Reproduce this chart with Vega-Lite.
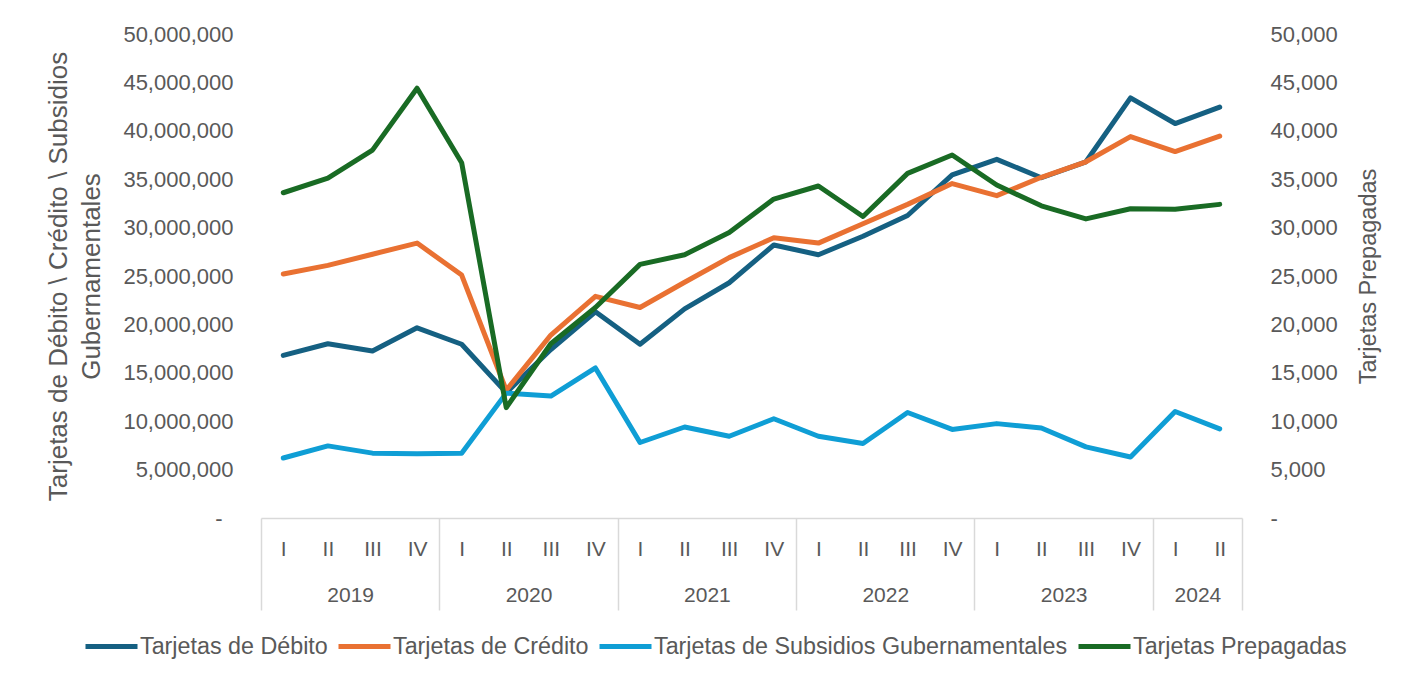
{
  "$schema": "https://vega.github.io/schema/vega-lite/v6.json",
  "width": 981,
  "height": 484,
  "autosize": {"type": "none"},
  "padding": {"left": 261, "top": 34, "right": 182, "bottom": 165},
  "background": "white",
  "config": {
    "view": {"stroke": null},
    "font": "Liberation Sans",
    "axis": {"labelColor": "#595959", "titleColor": "#595959", "labelFont": "Liberation Sans", "titleFont": "Liberation Sans", "titleFontWeight": "normal", "grid": false},
    "legend": {"padding": 0}
  },
  "datasets": {
    "tarjetas": [
      {"i": 0, "serie": "Tarjetas de Débito", "valor": 16800000},
      {"i": 1, "serie": "Tarjetas de Débito", "valor": 18000000},
      {"i": 2, "serie": "Tarjetas de Débito", "valor": 17250000},
      {"i": 3, "serie": "Tarjetas de Débito", "valor": 19650000},
      {"i": 4, "serie": "Tarjetas de Débito", "valor": 17950000},
      {"i": 5, "serie": "Tarjetas de Débito", "valor": 12950000},
      {"i": 6, "serie": "Tarjetas de Débito", "valor": 17400000},
      {"i": 7, "serie": "Tarjetas de Débito", "valor": 21300000},
      {"i": 8, "serie": "Tarjetas de Débito", "valor": 17950000},
      {"i": 9, "serie": "Tarjetas de Débito", "valor": 21600000},
      {"i": 10, "serie": "Tarjetas de Débito", "valor": 24300000},
      {"i": 11, "serie": "Tarjetas de Débito", "valor": 28200000},
      {"i": 12, "serie": "Tarjetas de Débito", "valor": 27200000},
      {"i": 13, "serie": "Tarjetas de Débito", "valor": 29100000},
      {"i": 14, "serie": "Tarjetas de Débito", "valor": 31250000},
      {"i": 15, "serie": "Tarjetas de Débito", "valor": 35450000},
      {"i": 16, "serie": "Tarjetas de Débito", "valor": 37050000},
      {"i": 17, "serie": "Tarjetas de Débito", "valor": 35150000},
      {"i": 18, "serie": "Tarjetas de Débito", "valor": 36800000},
      {"i": 19, "serie": "Tarjetas de Débito", "valor": 43400000},
      {"i": 20, "serie": "Tarjetas de Débito", "valor": 40750000},
      {"i": 21, "serie": "Tarjetas de Débito", "valor": 42450000},
      {"i": 0, "serie": "Tarjetas de Crédito", "valor": 25200000},
      {"i": 1, "serie": "Tarjetas de Crédito", "valor": 26100000},
      {"i": 2, "serie": "Tarjetas de Crédito", "valor": 27250000},
      {"i": 3, "serie": "Tarjetas de Crédito", "valor": 28400000},
      {"i": 4, "serie": "Tarjetas de Crédito", "valor": 25100000},
      {"i": 5, "serie": "Tarjetas de Crédito", "valor": 13200000},
      {"i": 6, "serie": "Tarjetas de Crédito", "valor": 18900000},
      {"i": 7, "serie": "Tarjetas de Crédito", "valor": 22900000},
      {"i": 8, "serie": "Tarjetas de Crédito", "valor": 21750000},
      {"i": 9, "serie": "Tarjetas de Crédito", "valor": 24350000},
      {"i": 10, "serie": "Tarjetas de Crédito", "valor": 26900000},
      {"i": 11, "serie": "Tarjetas de Crédito", "valor": 28950000},
      {"i": 12, "serie": "Tarjetas de Crédito", "valor": 28400000},
      {"i": 13, "serie": "Tarjetas de Crédito", "valor": 30400000},
      {"i": 14, "serie": "Tarjetas de Crédito", "valor": 32400000},
      {"i": 15, "serie": "Tarjetas de Crédito", "valor": 34550000},
      {"i": 16, "serie": "Tarjetas de Crédito", "valor": 33300000},
      {"i": 17, "serie": "Tarjetas de Crédito", "valor": 35200000},
      {"i": 18, "serie": "Tarjetas de Crédito", "valor": 36800000},
      {"i": 19, "serie": "Tarjetas de Crédito", "valor": 39400000},
      {"i": 20, "serie": "Tarjetas de Crédito", "valor": 37850000},
      {"i": 21, "serie": "Tarjetas de Crédito", "valor": 39450000},
      {"i": 0, "serie": "Tarjetas de Subsidios Gubernamentales", "valor": 6200000},
      {"i": 1, "serie": "Tarjetas de Subsidios Gubernamentales", "valor": 7450000},
      {"i": 2, "serie": "Tarjetas de Subsidios Gubernamentales", "valor": 6700000},
      {"i": 3, "serie": "Tarjetas de Subsidios Gubernamentales", "valor": 6650000},
      {"i": 4, "serie": "Tarjetas de Subsidios Gubernamentales", "valor": 6700000},
      {"i": 5, "serie": "Tarjetas de Subsidios Gubernamentales", "valor": 12900000},
      {"i": 6, "serie": "Tarjetas de Subsidios Gubernamentales", "valor": 12600000},
      {"i": 7, "serie": "Tarjetas de Subsidios Gubernamentales", "valor": 15500000},
      {"i": 8, "serie": "Tarjetas de Subsidios Gubernamentales", "valor": 7800000},
      {"i": 9, "serie": "Tarjetas de Subsidios Gubernamentales", "valor": 9400000},
      {"i": 10, "serie": "Tarjetas de Subsidios Gubernamentales", "valor": 8450000},
      {"i": 11, "serie": "Tarjetas de Subsidios Gubernamentales", "valor": 10250000},
      {"i": 12, "serie": "Tarjetas de Subsidios Gubernamentales", "valor": 8450000},
      {"i": 13, "serie": "Tarjetas de Subsidios Gubernamentales", "valor": 7700000},
      {"i": 14, "serie": "Tarjetas de Subsidios Gubernamentales", "valor": 10900000},
      {"i": 15, "serie": "Tarjetas de Subsidios Gubernamentales", "valor": 9150000},
      {"i": 16, "serie": "Tarjetas de Subsidios Gubernamentales", "valor": 9750000},
      {"i": 17, "serie": "Tarjetas de Subsidios Gubernamentales", "valor": 9300000},
      {"i": 18, "serie": "Tarjetas de Subsidios Gubernamentales", "valor": 7350000},
      {"i": 19, "serie": "Tarjetas de Subsidios Gubernamentales", "valor": 6300000},
      {"i": 20, "serie": "Tarjetas de Subsidios Gubernamentales", "valor": 11000000},
      {"i": 21, "serie": "Tarjetas de Subsidios Gubernamentales", "valor": 9200000},
      {"i": 0, "serie": "Tarjetas Prepagadas", "valor": 33600},
      {"i": 1, "serie": "Tarjetas Prepagadas", "valor": 35100},
      {"i": 2, "serie": "Tarjetas Prepagadas", "valor": 38000},
      {"i": 3, "serie": "Tarjetas Prepagadas", "valor": 44400},
      {"i": 4, "serie": "Tarjetas Prepagadas", "valor": 36700},
      {"i": 5, "serie": "Tarjetas Prepagadas", "valor": 11400},
      {"i": 6, "serie": "Tarjetas Prepagadas", "valor": 18000},
      {"i": 7, "serie": "Tarjetas Prepagadas", "valor": 21750},
      {"i": 8, "serie": "Tarjetas Prepagadas", "valor": 26200},
      {"i": 9, "serie": "Tarjetas Prepagadas", "valor": 27200},
      {"i": 10, "serie": "Tarjetas Prepagadas", "valor": 29500},
      {"i": 11, "serie": "Tarjetas Prepagadas", "valor": 32950},
      {"i": 12, "serie": "Tarjetas Prepagadas", "valor": 34300},
      {"i": 13, "serie": "Tarjetas Prepagadas", "valor": 31150},
      {"i": 14, "serie": "Tarjetas Prepagadas", "valor": 35600},
      {"i": 15, "serie": "Tarjetas Prepagadas", "valor": 37500},
      {"i": 16, "serie": "Tarjetas Prepagadas", "valor": 34400},
      {"i": 17, "serie": "Tarjetas Prepagadas", "valor": 32250},
      {"i": 18, "serie": "Tarjetas Prepagadas", "valor": 30900},
      {"i": 19, "serie": "Tarjetas Prepagadas", "valor": 31950},
      {"i": 20, "serie": "Tarjetas Prepagadas", "valor": 31900},
      {"i": 21, "serie": "Tarjetas Prepagadas", "valor": 32400}
    ]
  },
  "data": {"name": "tarjetas"},
  "layer": [
    {
      "transform": [{"filter": "datum.serie != 'Tarjetas Prepagadas'"}],
      "mark": {"type": "line", "strokeWidth": 5, "strokeCap": "round", "strokeJoin": "round"},
      "encoding": {
        "x": {
          "field": "i", "type": "quantitative",
          "scale": {"domain": [-0.5, 21.5], "nice": false, "zero": false},
          "axis": {
            "orient": "bottom",
            "title": null,
            "values": [0,1,2,3,4,5,6,7,8,9,10,11,12,13,14,15,16,17,18,19,20,21],
            "labelExpr": "['I','II','III','IV'][datum.value % 4]",
            "ticks": false, "domainColor": "#d9d9d9", "domainWidth": 1.5,
            "labelFontSize": 21, "labelPadding": 20, "labelFlush": false, "labelOverlap": false
          }
        },
        "y": {
          "field": "valor", "type": "quantitative",
          "scale": {"domain": [0, 50000000], "nice": false},
          "axis": {
            "orient": "left",
            "values": [0,5000000,10000000,15000000,20000000,25000000,30000000,35000000,40000000,45000000,50000000],
            "labelExpr": "datum.value == 0 ? '-\u2002\u200b' : format(datum.value, ',')",
            "ticks": false, "domain": false,
            "labelFontSize": 22, "labelPadding": 28,
            "title": ["Tarjetas de Débito \\ Crédito \\ Subsidios", "Gubernamentales"],
            "titleFontSize": 26, "titleLineHeight": 33, "titlePadding": 18
          }
        },
        "color": {
          "field": "serie", "type": "nominal",
          "scale": {
            "domain": ["Tarjetas de Débito", "Tarjetas de Crédito", "Tarjetas de Subsidios Gubernamentales", "Tarjetas Prepagadas"],
            "range": ["#156082", "#E97132", "#0F9ED5", "#196B24"]
          },
          "legend": {
            "orient": "none", "legendX": -178, "legendY": 584,
            "direction": "horizontal", "columns": 4, "title": null,
            "symbolType": "stroke", "symbolSize": 2704, "symbolStrokeWidth": 5,
            "labelFontSize": 23.3, "labelColor": "#595959", "labelFont": "Liberation Sans",
            "labelLimit": 600, "columnPadding": 0, "labelOffset": 0
          }
        }
      }
    },
    {
      "transform": [{"filter": "datum.serie == 'Tarjetas Prepagadas'"}],
      "mark": {"type": "line", "strokeWidth": 5, "strokeCap": "round", "strokeJoin": "round"},
      "encoding": {
        "x": {
          "field": "i", "type": "quantitative",
          "scale": {"domain": [-0.5, 21.5], "nice": false, "zero": false},
          "axis": {
            "orient": "bottom",
            "title": null,
            "values": [1.5, 5.5, 9.5, 13.5, 17.5, 20.5],
            "labelExpr": "toString(2019 + floor(datum.value / 4))",
            "ticks": false, "domain": false,
            "labelFontSize": 21, "labelPadding": 66, "labelFlush": false, "labelOverlap": false
          }
        },
        "y": {
          "field": "valor", "type": "quantitative",
          "scale": {"domain": [0, 50000], "nice": false},
          "axis": {
            "orient": "right",
            "values": [0,5000,10000,15000,20000,25000,30000,35000,40000,45000,50000],
            "labelExpr": "datum.value == 0 ? '\u00a0-' : format(datum.value, ',')",
            "ticks": false, "domain": false,
            "labelFontSize": 22, "labelPadding": 28,
            "title": "Tarjetas Prepagadas", "titleAngle": -90, "titleBaseline": "top",
            "titleFontSize": 23.5, "titlePadding": 19
          }
        },
        "color": {
          "field": "serie", "type": "nominal",
          "scale": {
            "domain": ["Tarjetas de Débito", "Tarjetas de Crédito", "Tarjetas de Subsidios Gubernamentales", "Tarjetas Prepagadas"],
            "range": ["#156082", "#E97132", "#0F9ED5", "#196B24"]
          }
        }
      }
    },
    {
      "transform": [{"filter": "datum.serie == 'Tarjetas Prepagadas'"}],
      "mark": {"type": "point", "opacity": 0},
      "encoding": {
        "x": {
          "field": "i", "type": "quantitative",
          "scale": {"domain": [-0.5, 21.5], "nice": false, "zero": false},
          "axis": {
            "orient": "bottom",
            "title": null,
            "values": [-0.5, 3.5, 7.5, 11.5, 15.5, 19.5, 21.5],
            "labels": false, "domain": false,
            "ticks": true, "tickSize": 92, "tickColor": "#d9d9d9", "tickWidth": 1.5
          }
        }
      }
    }
  ],
  "resolve": {"scale": {"y": "independent"}, "axis": {"x": "independent"}}
}
